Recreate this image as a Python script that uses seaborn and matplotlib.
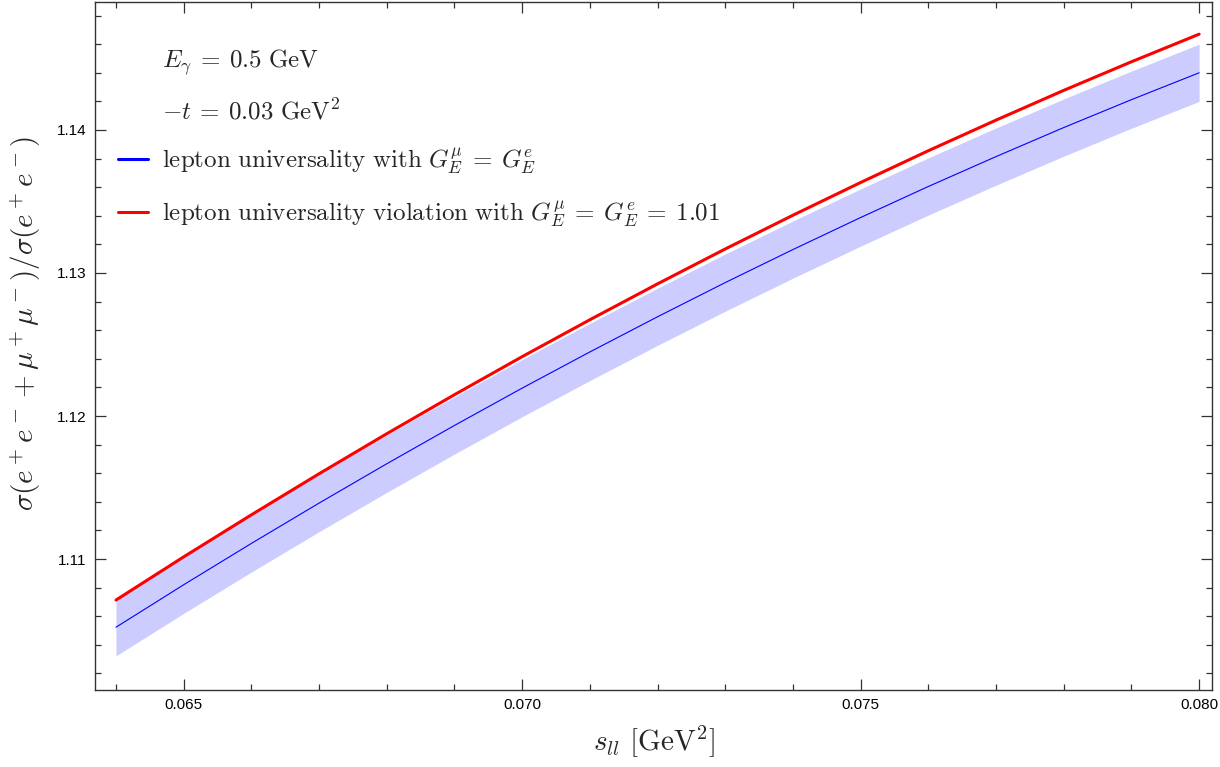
import numpy as np
import pandas as pd
import matplotlib
matplotlib.use("Agg")
import matplotlib.pyplot as plt
from matplotlib.lines import Line2D
from matplotlib.ticker import MultipleLocator
import seaborn as sns

# ---- data ----
s_ll = [0.064, 0.065, 0.066, 0.067, 0.068, 0.069, 0.070, 0.071, 0.072,
        0.073, 0.074, 0.075, 0.076, 0.077, 0.078, 0.079, 0.080]
ratio_violation = [1.10713, 1.11015, 1.11309, 1.11596, 1.11876, 1.12149, 1.12415, 1.12673, 1.12924,
                   1.13168, 1.13404, 1.13633, 1.13855, 1.14069, 1.14277, 1.14477, 1.14670]
ratio_universal = [1.10523, 1.10820, 1.11109, 1.11391, 1.11666, 1.11934, 1.12195, 1.12448, 1.12694,
                   1.12933, 1.13164, 1.13388, 1.13605, 1.13814, 1.14017, 1.14212, 1.14400]
band_lower = [1.10323, 1.10620, 1.10909, 1.11191, 1.11466, 1.11734, 1.11995, 1.12248, 1.12494,
              1.12733, 1.12964, 1.13188, 1.13405, 1.13614, 1.13817, 1.14012, 1.14200]
band_upper = [1.10723, 1.11020, 1.11309, 1.11591, 1.11866, 1.12134, 1.12395, 1.12648, 1.12894,
              1.13133, 1.13364, 1.13588, 1.13805, 1.14014, 1.14217, 1.14412, 1.14600]
x_ticks = [0.065, 0.070, 0.075, 0.080]
x_ticklabels = ["0.065", "0.070", "0.075", "0.080"]
y_ticks = [1.11, 1.12, 1.13, 1.14]
y_ticklabels = ["1.11", "1.12", "1.13", "1.14"]

df = pd.DataFrame({"s": s_ll, "viol": ratio_violation, "univ": ratio_universal,
                   "lo": band_lower, "hi": band_upper})

sns.set_theme(style="ticks")
plt.rcParams["mathtext.fontset"] = "cm"
plt.rcParams["font.family"] = ["Liberation Sans", "DejaVu Sans"]

fig = plt.figure(figsize=(12.2, 7.67), dpi=100)
ax = fig.add_axes([95/1220, 1 - 690/767, (1212-95)/1220, (690-2)/767])

ax.fill_between(df["s"], df["lo"], df["hi"], color="#ccccff", linewidth=0, zorder=1)
sns.lineplot(data=df, x="s", y="univ", ax=ax, color="#0000ff", linewidth=0.8, zorder=2)
sns.lineplot(data=df, x="s", y="viol", ax=ax, color="#ff0000", linewidth=2.2, zorder=3)

ax.set_xlim(0.06369, 0.08019)
ax.set_ylim(1.10084, 1.14895)
ax.set_xticks(x_ticks)
ax.set_xticklabels(x_ticklabels)
ax.set_yticks(y_ticks)
ax.set_yticklabels(y_ticklabels)
ax.xaxis.set_minor_locator(MultipleLocator(0.001))
ax.yaxis.set_minor_locator(MultipleLocator(0.002))
ax.tick_params(which="both", direction="in", top=True, right=True, colors="#333333",
               labelcolor="black", labelsize=11, width=0.9)
ax.tick_params(which="major", length=8, pad=6)
ax.tick_params(which="minor", length=4.5)
for sp in ax.spines.values():
    sp.set_color("#333333")
    sp.set_linewidth(1.0)

ax.set_xlabel(r"$s_{ll}\ [\mathrm{GeV}^2]$", fontsize=21, labelpad=8)
ax.set_ylabel(r"$\sigma(e^+e^- + \mu^+\mu^-)/\sigma(e^+e^-)$", fontsize=21, labelpad=10)
ax.yaxis.set_label_coords(-0.047, 0.532)

empty = Line2D([], [], linestyle="none")
handles = [empty, empty,
           Line2D([], [], color="#0000ff", linewidth=2.2),
           Line2D([], [], color="#ff0000", linewidth=2.2)]
labels = [r"$E_\gamma \:=\: 0.5\ \mathrm{GeV}$",
          r"$-t \:=\: 0.03\ \mathrm{GeV}^2$",
          r"$\mathrm{lepton\ universality\ with}\ G_E^\mu \:=\: G_E^e$",
          r"$\mathrm{lepton\ universality\ violation\ with}\ G_E^\mu \:=\: G_E^e \:=\: 1.01$"]
ax.legend(handles, labels, loc="upper left", bbox_to_anchor=(0.0, 0.967), frameon=False,
          fontsize=18, handlelength=1.2, handletextpad=0.6, labelspacing=0.86)

fig.savefig("out.png", dpi=100)
